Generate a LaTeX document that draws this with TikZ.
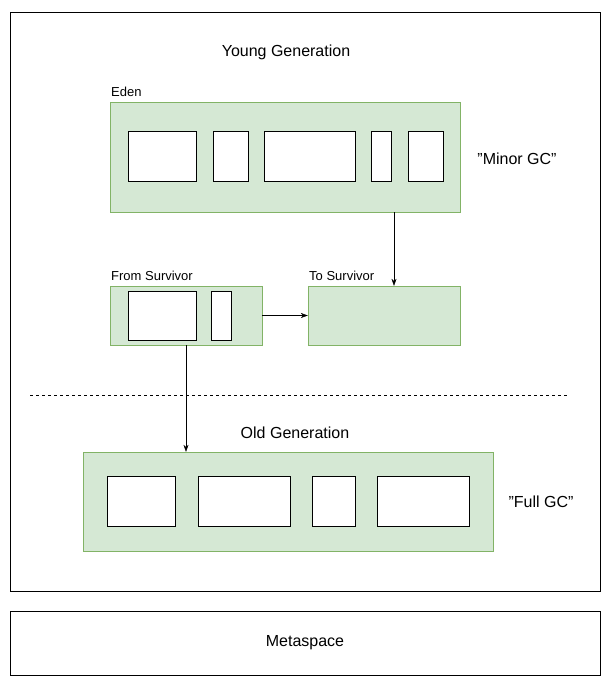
\documentclass[tikz,border=0pt]{standalone}
\usepackage{fontspec}
\setmainfont{Liberation Sans}
\usetikzlibrary{arrows.meta,positioning}
\definecolor{genfill}{HTML}{D5E8D4}
\definecolor{genline}{HTML}{82B366}

\tikzset{
  region/.style={draw=genline, fill=genfill, inner sep=0pt},
  obj/.style={draw=black, fill=white, inner sep=0pt, minimum height=50},
  frame/.style={draw=black, inner sep=0pt},
  title/.style={font=\fontsize{16}{18}\selectfont},
  small/.style={font=\fontsize{13}{15}\selectfont, anchor=west, inner sep=1pt},
  arr/.style={-{Stealth[length=7pt,width=5pt]}, draw=black},
}

\begin{document}
\begin{tikzpicture}[x=1pt,y=-1pt]
\useasboundingbox (0,0) rectangle (611,683);

% Heap and metaspace
\node[frame, minimum width=590, minimum height=579] (heap) at (305,301.5) {};
\node[frame, minimum width=590, minimum height=64, title] (meta) at (305,643) {Metaspace};

% Young generation
\node[title] (young) at (286,52) {Young Generation};
\node[region, minimum width=350, minimum height=110] (eden) at (285,157) {};
\node[small] (edenlbl) at (110,92) {Eden};
\node[obj, minimum width=68] (e1) at (162,156) {};
\node[obj, minimum width=35] (e2) at (230.5,156) {};
\node[obj, minimum width=91] (e3) at (309.5,156) {};
\node[obj, minimum width=20] (e4) at (381,156) {};
\node[obj, minimum width=35] (e5) at (425.5,156) {};
\node[title] (minor) at (517,159) {\symbol{34}Minor GC\symbol{34}};

% Survivors
\node[region, minimum width=152, minimum height=59] (fromsurv) at (186,315.5) {};
\node[small] (fromlbl) at (110,276) {From Survivor};
\node[obj, minimum width=68, minimum height=49] (f1) at (162,315.5) {};
\node[obj, minimum width=20, minimum height=49] (f2) at (221,315.5) {};
\node[region, minimum width=152, minimum height=59] (tosurv) at (384,315.5) {};
\node[small] (tolbl) at (308,276) {To Survivor};

% Boundary
\coordinate (dashl) at (30,395);
\coordinate (dashr) at (568,395);
\draw[dashed] (dashl) -- (dashr);

% Old generation
\node[title] (oldlbl) at (295,433) {Old Generation};
\node[region, minimum width=410, minimum height=99] (old) at (288,501.5) {};
\node[obj, minimum width=68] (o1) at (141,501) {};
\node[obj, minimum width=92] (o2) at (244,501) {};
\node[obj, minimum width=43] (o3) at (333.5,501) {};
\node[obj, minimum width=92] (o4) at (423,501) {};
\node[title] (full) at (541,502) {\symbol{34}Full GC\symbol{34}};

% Connections
\draw[arr] ([xshift=109pt]eden.south) -- ([xshift=10pt]tosurv.north);
\draw[arr] (fromsurv.east) -- (tosurv.west);
\draw[arr] (fromsurv.south) -- (fromsurv.south |- old.north);

\end{tikzpicture}
\end{document}
